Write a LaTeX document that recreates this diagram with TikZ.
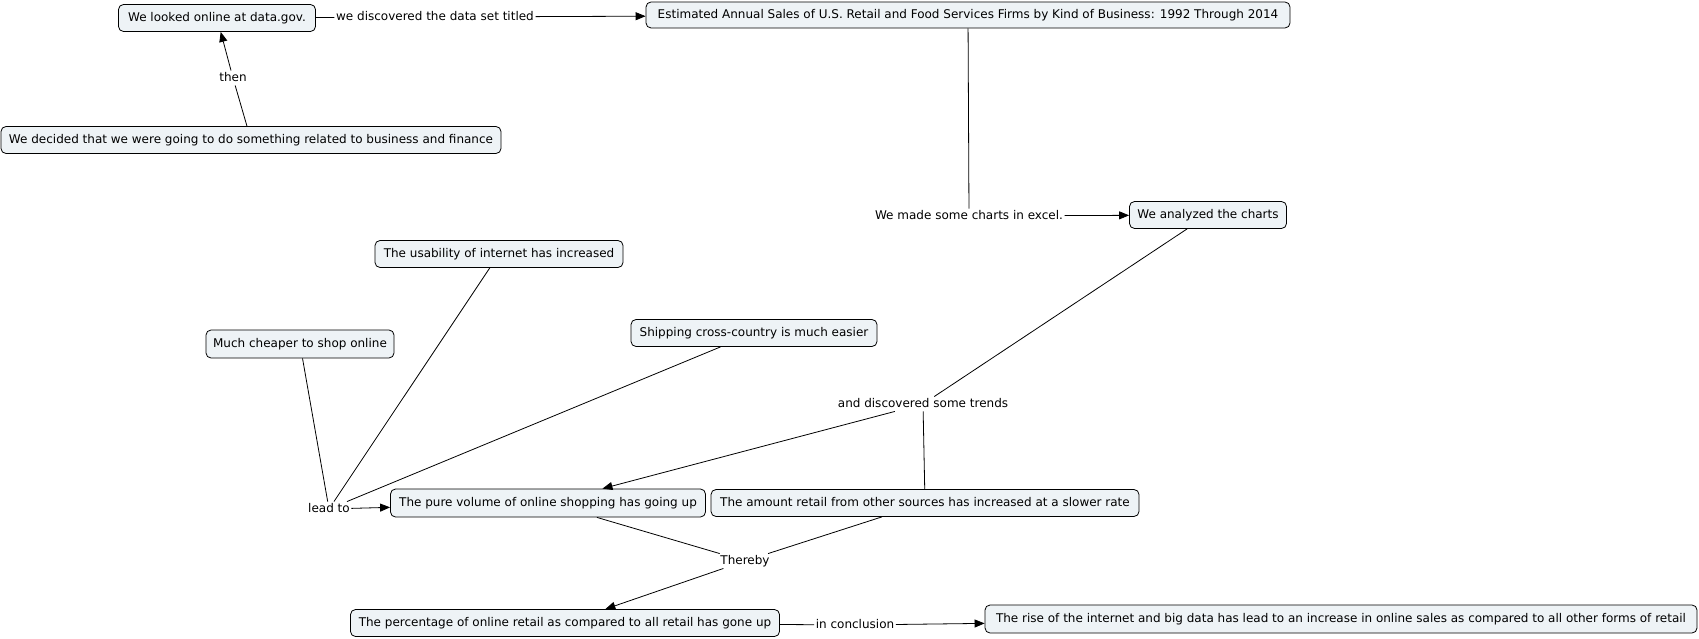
\documentclass[tikz,border=0pt]{standalone}
\usepackage{fontspec}
\setmainfont{DejaVu Sans}
\usetikzlibrary{arrows.meta}
\definecolor{boxfill}{RGB}{238,243,246}
\begin{document}
\begin{tikzpicture}[x=1pt,y=-1pt,
  concept/.style={draw=black, line width=0.8pt, rounded corners=5pt, fill=boxfill,
    font=\fontsize{12}{14}\selectfont, inner sep=0pt, minimum height=27pt,
    text height=9pt, text depth=2.5pt},
  lbl/.style={font=\fontsize{12}{14}\selectfont, inner sep=1.5pt, text height=9pt, text depth=2.5pt},
  link/.style={line width=0.8pt},
  arr/.style={line width=0.8pt, -{Triangle[length=10pt,width=8pt]}}
]
\useasboundingbox (0,0) rectangle (1699,639);
% concepts
\node[concept, minimum width=197pt] (gov) at (217,18) {We looked online at data.gov.};
\node[concept, minimum width=644pt, minimum height=26pt] (est) at (968,15) {Estimated Annual Sales of U.S. Retail and Food Services Firms by Kind of Business: 1992 Through 2014};
\node[concept, minimum width=500pt] (decided) at (251,140) {We decided that we were going to do something related to business and finance};
\node[concept, minimum width=157pt] (analyzed) at (1208,215) {We analyzed the charts};
\node[concept, minimum width=248pt] (usab) at (499,254) {The usability of internet has increased};
\node[concept, minimum width=188pt, minimum height=28pt] (cheap) at (300,344) {Much cheaper to shop online};
\node[concept, minimum width=246pt] (ship) at (754,333) {Shipping cross-country is much easier};
\node[concept, minimum width=315pt, minimum height=28pt] (pure) at (548,503) {The pure volume of online shopping has going up};
\node[concept, minimum width=428pt] (amount) at (925,503) {The amount retail from other sources has increased at a slower rate};
\node[concept, minimum width=429pt] (perc) at (565,623) {The percentage of online retail as compared to all retail has gone up};
\node[concept, minimum width=712pt, minimum height=28pt] (rise) at (1341,619) {The rise of the internet and big data has lead to an increase in online sales as compared to all other forms of retail};
% linking phrases
\node[lbl] (lDisc) at (435,17) {we discovered the data set titled};
\node[lbl] (lThen) at (233,78) {then};
\node[lbl] (lCharts) at (969,216) {We made some charts in excel.};
\node[lbl] (lTrends) at (923,404) {and discovered some trends};
\node[lbl] (lLead) at (329,509) {lead to};
\node[lbl] (lThereby) at (745,561) {Thereby};
\node[lbl] (lConcl) at (855,625) {in conclusion};
% connectors
\draw[link] (gov) -- (lDisc);
\draw[arr] (lDisc) -- (est);
\draw[link] (decided) -- (lThen);
\draw[arr] (lThen) -- (gov);
\draw[link] (est) -- (lCharts);
\draw[arr] (lCharts) -- (analyzed);
\draw[link] (analyzed) -- (lTrends);
\draw[link] (amount) -- (lTrends);
\draw[arr] (lTrends) -- (pure);
\draw[link] (cheap) -- (lLead);
\draw[link] (usab) -- (lLead);
\draw[link] (ship) -- (lLead);
\draw[arr] (lLead) -- (pure);
\draw[link] (pure) -- (lThereby);
\draw[link] (amount) -- (lThereby);
\draw[arr] (lThereby) -- (perc);
\draw[link] (perc) -- (lConcl);
\draw[arr] (lConcl) -- (rise);
\end{tikzpicture}
\end{document}
